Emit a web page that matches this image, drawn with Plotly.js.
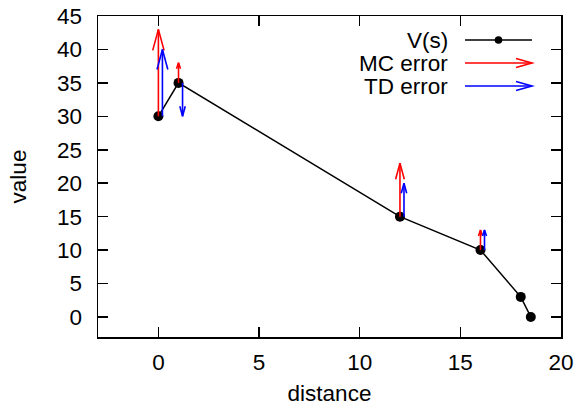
<!DOCTYPE html>
<html>
<head>
<meta charset="utf-8">
<script src="https://cdn.plot.ly/plotly-3.0.1.min.js"></script>
<style>html,body{margin:0;padding:0;background:#fff;}#plot{width:579px;height:406px;}</style>
</head>
<body>
<div id="plot"></div>
<script>
// ---- data ----
const distance = [0, 1, 12, 16, 18, 18.5];
const value = [30, 35, 15, 10, 3, 0];
const errorAt = [0, 1, 12, 16];          // distances where the errors are drawn
const errorBase = [30, 35, 15, 10];      // V(s) at those states
const mcTarget = [43, 38, 23, 13];       // MC target (arrow tip)
const tdTarget = [40, 30, 20, 13];       // TD target (arrow tip)
const legendLabels = ['V(s)', 'MC error', 'TD error'];
const xTicks = [0, 5, 10, 15, 20];
const yTicks = [0, 5, 10, 15, 20, 25, 30, 35, 40, 45];

// ---- layout geometry ----
const W = 579, H = 406;
const M = {l: 98, r: 18, t: 16, b: 69};
const xRange = [-3, 20], yRange = [-3, 45];
const PW = W - M.l - M.r, PH = H - M.t - M.b;
const xScale = PW / (xRange[1] - xRange[0]);
const yScale = PH / (yRange[1] - yRange[0]);
const tdShift = 0.2;
const FONT = 'Liberation Sans, Arial, sans-serif';
const FS = 22.5;

function arrowTrace(xArr, y0Arr, y1Arr, shift, color) {
  const X = [], Y = [];
  for (let i = 0; i < xArr.length; i++) {
    const x = xArr[i] + shift, y0 = y0Arr[i], y1 = y1Arr[i];
    const Lpx = Math.abs(y1 - y0) * yScale;
    const hl = Math.min(0.3 * Lpx, 21);
    const hw = Math.max(hl * 0.27, 2);
    const dir = Math.sign(y1 - y0);
    const dy = dir * hl / yScale, dx = hw / xScale;
    X.push(x, x, null, x - dx, x, x + dx, null);
    Y.push(y0, y1, null, y1 - dy, y1, y1 - dy, null);
  }
  return {x: X, y: Y, mode: 'lines', type: 'scatter', showlegend: false,
    line: {color: color, width: 1.6}, hoverinfo: 'skip', connectgaps: false};
}

const traces = [
  {x: distance, y: value, type: 'scatter', mode: 'lines+markers', showlegend: false,
   line: {color: '#000', width: 1.5}, marker: {color: '#000', size: 10}},
  arrowTrace(errorAt, errorBase, mcTarget, 0, '#ff0000'),
  arrowTrace(errorAt, errorBase, tdTarget, tdShift, '#0000ff')
];

// ---- custom legend (pixel -> paper) ----
const px = x => (x - M.l) / PW;
const py = y => (H - M.b - y) / PH;
const legRows = [40, 63, 86];
const legTextX = 450, legL = 465, legR = 532;
const legColors = ['#000', '#ff0000', '#0000ff'];
const annotations = [], shapes = [];
legendLabels.forEach((lab, i) => {
  const yy = legRows[i];
  annotations.push({xref: 'paper', yref: 'paper', x: px(legTextX), y: py(yy), text: lab,
    showarrow: false, xanchor: 'right', yanchor: 'middle', font: {family: FONT, size: FS, color: '#000'}});
  shapes.push({type: 'line', xref: 'paper', yref: 'paper', x0: px(legL), x1: px(legR), y0: py(yy), y1: py(yy),
    line: {color: legColors[i], width: 1.6}});
  if (i === 0) {
    const cx = (legL + legR) / 2, r = 3.8;
    shapes.push({type: 'circle', xref: 'paper', yref: 'paper', x0: px(cx - r), x1: px(cx + r), y0: py(yy + r), y1: py(yy - r),
      fillcolor: '#000', line: {color: '#000', width: 0}});
  } else {
    const hl = 16, hw = 4.5;
    shapes.push({type: 'path', xref: 'paper', yref: 'paper',
      path: `M ${px(legR - hl)} ${py(yy - hw)} L ${px(legR)} ${py(yy)} L ${px(legR - hl)} ${py(yy + hw)}`,
      line: {color: legColors[i], width: 1.6}});
  }
});

const axisCommon = {
  showline: true, linecolor: '#000', linewidth: 1.5, mirror: 'ticks',
  ticks: 'inside', ticklen: 10, tickwidth: 1.5, tickcolor: '#000',
  showgrid: false, zeroline: false, fixedrange: true,
  tickfont: {family: FONT, size: FS, color: '#000'}
};

const layout = {
  width: W, height: H, margin: M, paper_bgcolor: '#fff', plot_bgcolor: '#fff',
  font: {family: FONT, size: FS, color: '#000'},
  showlegend: false,
  xaxis: Object.assign({}, axisCommon, {range: xRange, tickmode: 'array', tickvals: xTicks,
    ticktext: xTicks.map(String), ticklabelstandoff: 4,
    title: {text: 'distance', font: {family: FONT, size: FS, color: '#000'}, standoff: 16}}),
  yaxis: Object.assign({}, axisCommon, {range: yRange, tickmode: 'array', tickvals: yTicks,
    ticktext: yTicks.map(String), ticklabelstandoff: 10,
    title: {text: 'value', font: {family: FONT, size: FS, color: '#000'}, standoff: 24}}),
  annotations: annotations,
  shapes: shapes
};

Plotly.newPlot('plot', traces, layout, {displayModeBar: false, staticPlot: true});
</script>
</body>
</html>
